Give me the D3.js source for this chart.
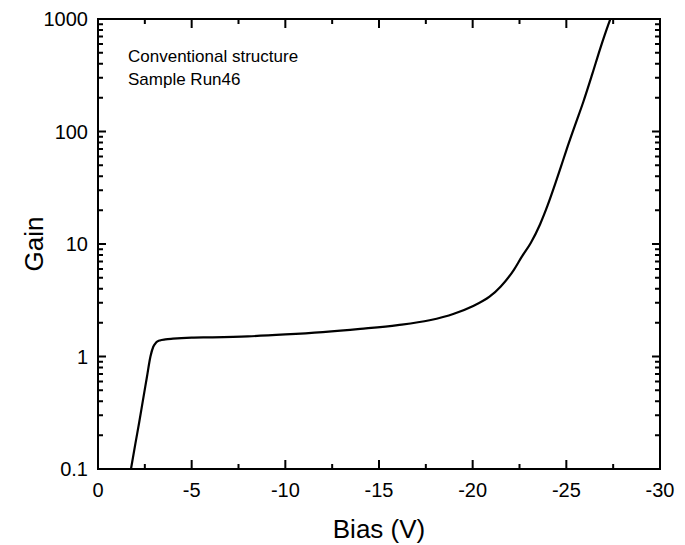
<!DOCTYPE html>
<html>
<head>
<meta charset="utf-8">
<script src="https://cdn.jsdelivr.net/npm/d3@7"></script>
<style>
  body { margin: 0; background: #fff; }
  text { font-family: Arial, "Liberation Sans", sans-serif; fill: #000; }
</style>
</head>
<body>
<div id="chart"></div>
<script>
// Dados
const biasV = [-1.76, -2.0, -2.2, -2.4, -2.6, -2.8, -2.95, -3.1, -3.3, -3.6, -4, -5, -6, -8, -10, -12, -14, -16, -17.7, -19, -20, -20.9, -21.5, -22.2, -22.6, -23.1, -23.6, -24, -24.4, -24.7, -25, -25.5, -25.9, -26.4, -26.8, -27.25, -27.35];
const gain  = [0.1, 0.17, 0.26, 0.41, 0.64, 1.0, 1.22, 1.33, 1.39, 1.42, 1.44, 1.47, 1.48, 1.51, 1.57, 1.65, 1.76, 1.9, 2.1, 2.4, 2.8, 3.4, 4.2, 5.9, 7.6, 10.2, 15, 22, 34, 48, 68, 118, 182, 330, 540, 900, 1000];

const xTicks = [0, -5, -10, -15, -20, -25, -30];
const xTickLabels = ["0", "-5", "-10", "-15", "-20", "-25", "-30"];
const xMinorTicks = [-2.5, -7.5, -12.5, -17.5, -22.5, -27.5];
const yTicks = [0.1, 1, 10, 100, 1000];
const yTickLabels = ["0.1", "1", "10", "100", "1000"];

const W = 685, H = 545;
const margin = { top: 19, right: 25, bottom: 76, left: 98 };
const width = W - margin.left - margin.right,
      height = H - margin.top - margin.bottom;

const svg = d3.select("#chart").append("svg")
    .attr("width", W)
    .attr("height", H);

const g = svg.append("g")
    .attr("transform", `translate(${margin.left},${margin.top})`);

const x = d3.scaleLinear().domain([0, -30]).range([0, width]);
const y = d3.scaleLog().domain([0.1, 1000]).range([height, 0]);

// Ticks menores do eixo log: 2..9 em cada década
const yMinorTicks = [];
[0.1, 1, 10, 100].forEach(d => { for (let k = 2; k <= 9; k++) yMinorTicks.push(d * k); });

const xTickData = xTicks.map(v => [v, 9]).concat(xMinorTicks.map(v => [v, 5]));
const yTickData = yTicks.map(v => [v, 8]).concat(yMinorTicks.map(v => [v, 5]));

// Moldura e ticks (para dentro) num só path
const frame = d3.path();
frame.moveTo(0, 0);
frame.lineTo(width, 0);
frame.lineTo(width, height);
frame.lineTo(0, height);
frame.closePath();
xTickData.forEach(([v, len]) => {
    const px = x(v);
    frame.moveTo(px, height); frame.lineTo(px, height - len);
    frame.moveTo(px, 0); frame.lineTo(px, len);
});
yTickData.forEach(([v, len]) => {
    const py = y(v);
    frame.moveTo(0, py); frame.lineTo(len, py);
    frame.moveTo(width, py); frame.lineTo(width - len, py);
});

g.append("path")
    .attr("d", frame.toString())
    .style("fill", "none")
    .attr("stroke", "#000")
    .attr("stroke-width", 2);

// Rótulos dos ticks
g.selectAll(".xlab").data(xTicks).enter().append("text")
    .attr("x", d => x(d))
    .attr("y", height + 28)
    .attr("text-anchor", "middle")
    .style("font-size", "20px")
    .text((d, i) => xTickLabels[i]);

g.selectAll(".ylab").data(yTicks).enter().append("text")
    .attr("x", -10)
    .attr("y", d => y(d))
    .attr("dy", "0.35em")
    .attr("text-anchor", "end")
    .style("font-size", "20px")
    .text((d, i) => yTickLabels[i]);

// Curva
const line = d3.line()
    .x((d, i) => x(biasV[i]))
    .y(d => y(d))
    .curve(d3.curveMonotoneX);

g.append("path")
    .datum(gain)
    .style("fill", "none")
    .attr("stroke", "#000")
    .attr("stroke-width", 2.2)
    .attr("d", line);

// Anotação
g.append("text")
    .attr("x", 30).attr("y", 43)
    .style("font-size", "17px")
    .text("Conventional structure");
g.append("text")
    .attr("x", 30).attr("y", 66)
    .style("font-size", "17px")
    .text("Sample Run46");

// Títulos dos eixos
g.append("text")
    .attr("x", width / 2)
    .attr("y", height + 69)
    .attr("text-anchor", "middle")
    .style("font-size", "26px")
    .text("Bias (V)");

g.append("text")
    .attr("transform", "rotate(-90)")
    .attr("x", -height / 2)
    .attr("y", -55)
    .attr("text-anchor", "middle")
    .style("font-size", "26px")
    .text("Gain");
</script>
</body>
</html>
